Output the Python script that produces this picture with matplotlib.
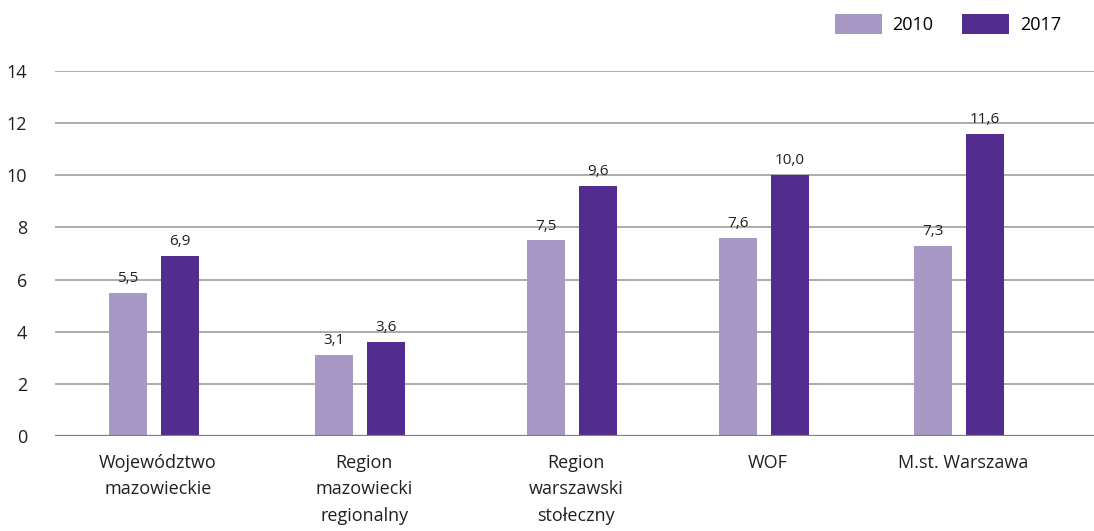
import matplotlib
matplotlib.use("Agg")
import matplotlib.pyplot as plt
import numpy as np

categories = ["Województwo\nmazowieckie", "Region\nmazowiecki\nregionalny",
              "Region\nwarszawski\nstołeczny", "WOF", "M.st. Warszawa"]
years = ["2010", "2017"]
values_2010 = [5.5, 3.1, 7.5, 7.6, 7.3]
values_2017 = [6.9, 3.6, 9.6, 10.0, 11.6]
yticks = [0, 2, 4, 6, 8, 10, 12, 14]

plt.rcParams['font.family'] = ['Open Sans', 'DejaVu Sans']

c_light = "#A898C6"
c_dark = "#522D8F"
c_text = "#231F20"

fig = plt.figure(figsize=(10.94, 5.31), dpi=100)
ax = fig.add_axes([0.0503, 0.1789, 0.9497, 0.6874])

# group centres along the category axis (slightly uneven spacing)
x = np.array([0.0, 1.024, 2.077, 3.031, 4.0])
w = 0.189
off = 0.129

b1 = ax.bar(x - off, values_2010, width=w, color=c_light, label=years[0], zorder=3)
b2 = ax.bar(x + off, values_2017, width=w, color=c_dark, label=years[1], zorder=3)

for bars, vals in ((b1, values_2010), (b2, values_2017)):
    for rect, v in zip(bars, vals):
        ax.annotate(f"{v:.1f}".replace(".", ","),
                    (rect.get_x() + rect.get_width() / 2, v),
                    xytext=(0, 5), textcoords="offset points",
                    ha="center", va="bottom", fontsize=11, color=c_text)

ax.set_xlim(-0.492, 4.67)
ax.set_ylim(0, 14)
ax.set_yticks(yticks)
ax.set_yticklabels([str(t) for t in yticks], fontsize=13, color=c_text)
ax.yaxis.grid(True, color="#A6A6A6", linewidth=1.3, zorder=0)
ax.tick_params(axis="y", length=0, pad=20)
ax.tick_params(axis="x", length=0, pad=13)
for s in ax.spines.values():
    s.set_visible(False)
ax.axhline(0, color="#7F7F7F", linewidth=1.6, zorder=4)

ax.set_xticks(x + 0.02)
ax.set_xticklabels(categories, fontsize=13, color=c_text, linespacing=1.6, va="top")

fig.legend(handles=[b1, b2], labels=years, loc="upper right",
           bbox_to_anchor=(0.985, 1.005), ncol=2, frameon=False,
           fontsize=13, handlelength=2.6, handleheight=1.35,
           columnspacing=1.6, handletextpad=0.6)

fig.savefig("out.png", dpi=100)
